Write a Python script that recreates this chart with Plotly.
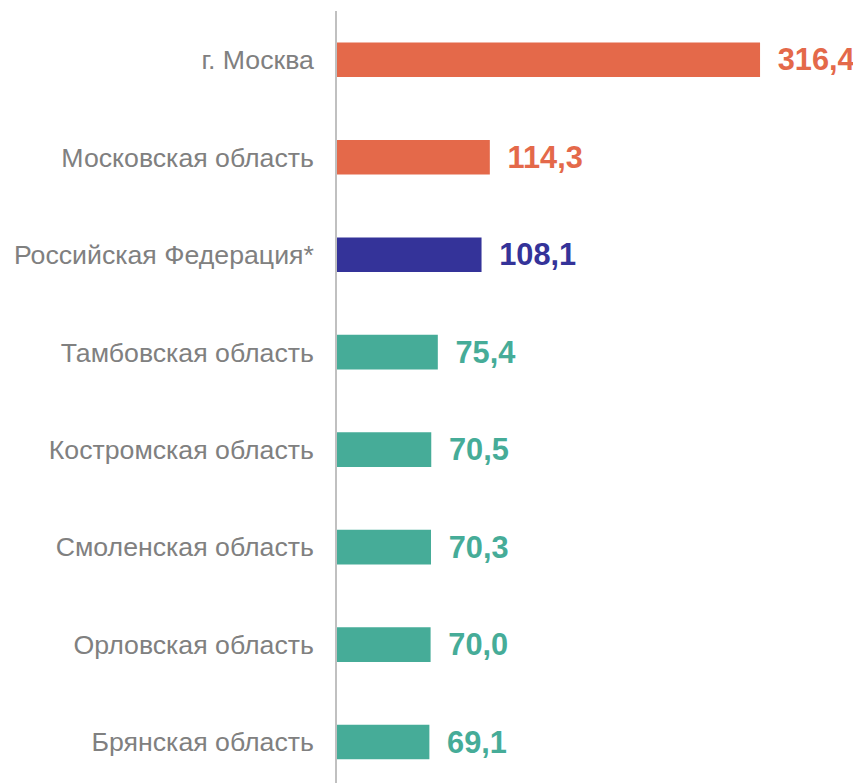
import plotly.graph_objects as go

# ── Data ──────────────────────────────────────────────────────────────────────
regions = [
    "г. Москва",
    "Московская область",
    "Российская Федерация*",
    "Тамбовская область",
    "Костромская область",
    "Смоленская область",
    "Орловская область",
    "Брянская область",
]
values = [316.4, 114.3, 108.1, 75.4, 70.5, 70.3, 70.0, 69.1]
groups = ["top", "top", "rf", "low", "low", "low", "low", "low"]

# ── Styling ───────────────────────────────────────────────────────────────────
COLORS = {"top": "#E4694A", "rf": "#343399", "low": "#46AC98"}
bar_colors = [COLORS[g] for g in groups]
labels = ["\u00a0\u2009" + f"{v:.1f}".replace(".", ",") for v in values]

# the page body has an 8px margin, so the figure is sized to end at the window edge
fig = go.Figure(
    go.Bar(
        x=values,
        y=regions,
        orientation="h",
        width=0.355,
        marker=dict(color=bar_colors, line=dict(width=0)),
        text=labels,
        textposition="outside",
        textfont=dict(family="Liberation Sans, Arial, sans-serif", size=32,
                      color=bar_colors, weight="bold"),
        cliponaxis=False,
        hoverinfo="skip",
    )
)

fig.update_layout(
    width=853,
    height=775,
    paper_bgcolor="white",
    plot_bgcolor="white",
    showlegend=False,
    margin=dict(l=329, r=0, t=3, b=0),
    font=dict(family="Liberation Sans, Arial, sans-serif", color="#808080", size=26.7),
    xaxis=dict(
        range=[0, 391.9],
        visible=False,
        showgrid=False,
        zeroline=False,
    ),
    yaxis=dict(
        type="category",
        range=[7.42, -0.5],
        showgrid=False,
        zeroline=False,
        showline=True,
        linecolor="#C0C0C0",
        linewidth=1.5,
        ticks="",
        ticklabelstandoff=16,
        tickfont=dict(size=26.7, color="#808080"),
    ),
)

fig.write_html("out.html")
